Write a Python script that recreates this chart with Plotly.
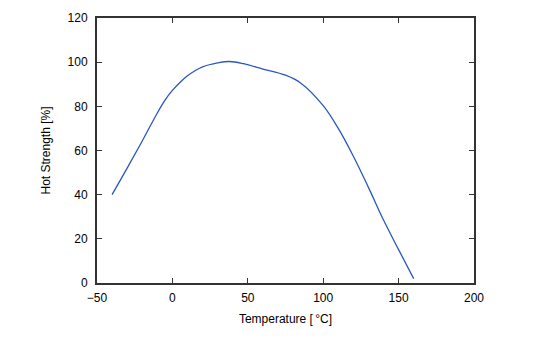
import plotly.graph_objects as go

temperature = [-40, -30, -20, -10, -5, 0, 5, 10, 15, 20, 30, 38, 47, 60, 75, 85, 100, 110, 120, 130, 140, 150, 160]
hot_strength = [40, 52, 64.3, 77.0, 82.7, 87.2, 90.8, 93.8, 96.1, 97.9, 99.7, 100.3, 99.3, 96.9, 94.1, 90.6, 80.3, 70, 57.4, 43.3, 28.5, 15.1, 2]

x_ticks = [-50, 0, 50, 100, 150, 200]
y_ticks = [0, 20, 40, 60, 80, 100, 120]

FONT = "Liberation Sans, Arial, sans-serif"

fig = go.Figure()
fig.add_trace(go.Scatter(
    x=temperature, y=hot_strength, mode="lines",
    line=dict(color="#2a56c0", width=1.3, shape="spline", smoothing=1.0),
    showlegend=False,
))

axis_common = dict(
    showline=True, linecolor="#333333", linewidth=2, mirror="ticks",
    ticks="inside", ticklen=5, tickwidth=1, tickcolor="#333333",
    showgrid=False, zeroline=False,
    tickfont=dict(family=FONT, size=12, color="#000000"),
)

fig.update_xaxes(range=[-50, 200], tickvals=x_ticks, ticklabelstandoff=3,
                 title=dict(text="Temperature [\u2009°C]", standoff=10,
                            font=dict(family=FONT, size=12, color="#000000")),
                 **axis_common)
fig.update_yaxes(range=[0, 120], tickvals=y_ticks, ticklabelstandoff=5,
                 title=dict(text="Hot Strength [%]", standoff=14,
                            font=dict(family=FONT, size=12, color="#000000")),
                 **axis_common)

fig.update_layout(
    width=548, height=338,
    margin=dict(l=97, r=74, t=18, b=55, autoexpand=False),
    paper_bgcolor="white", plot_bgcolor="white",
)

fig.write_html("out.html")
